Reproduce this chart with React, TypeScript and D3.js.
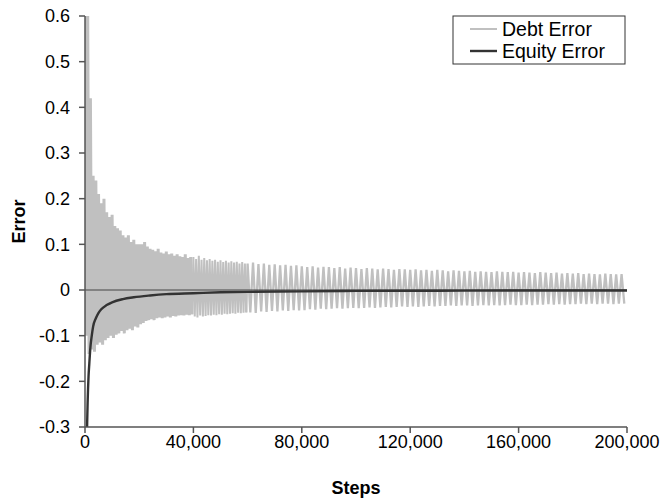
import React from "react";
import * as d3 from "d3";

// Axis ticks
const xTicks = [0, 40000, 80000, 120000, 160000, 200000];
const yTicks = [0.6, 0.5, 0.4, 0.3, 0.2, 0.1, 0, -0.1, -0.2, -0.3];

// Debt error, early phase (0 - 40,000): peaks every 1,000 steps, troughs 500 steps later
const debtEarlyPeaks = [
  0.75, 0.6, 0.42, 0.25, 0.24, 0.21, 0.19, 0.2, 0.17, 0.16,
  0.165, 0.14, 0.135, 0.13, 0.12, 0.115, 0.12, 0.105, 0.11, 0.1,
  0.1, 0.1, 0.105, 0.095, 0.09, 0.088, 0.085, 0.09, 0.082, 0.08,
  0.084, 0.078, 0.08, 0.075, 0.078, 0.074, 0.072, 0.078, 0.07, 0.072,
];
const debtEarlyTroughs = [
  -0.1, -0.14, -0.13, -0.135, -0.12, -0.115, -0.12, -0.11, -0.105, -0.1,
  -0.105, -0.098, -0.095, -0.09, -0.095, -0.088, -0.085, -0.088, -0.08, -0.082,
  -0.075, -0.072, -0.068, -0.066, -0.064, -0.066, -0.062, -0.06, -0.062, -0.06,
  -0.058, -0.06, -0.057, -0.058, -0.056, -0.055, -0.056, -0.054, -0.055, -0.053,
];

// Debt error, middle phase (40,000 - 60,000): peaks every 1,000 steps
const debtMidPeaks = [
  0.072, 0.068, 0.075, 0.066, 0.07, 0.065, 0.068, 0.064, 0.066, 0.062,
  0.065, 0.061, 0.064, 0.06, 0.063, 0.06, 0.062, 0.058, 0.061, 0.058,
];
const debtMidTroughs = [
  -0.058, -0.06, -0.056, -0.058, -0.057, -0.055, -0.056, -0.054, -0.055, -0.053,
  -0.054, -0.052, -0.053, -0.052, -0.051, -0.052, -0.05, -0.051, -0.05, -0.049,
];

// Debt error, late phase (60,000 - 200,000): peaks every 2,000 steps, troughs 1,000 steps later
const debtLatePeaks = [
  0.058, 0.06, 0.057, 0.058, 0.055, 0.056, 0.054, 0.055, 0.053, 0.054,
  0.052, 0.05, 0.052, 0.049, 0.051, 0.05, 0.048, 0.05, 0.047, 0.049,
  0.048, 0.046, 0.048, 0.047, 0.045, 0.047, 0.046, 0.044, 0.046, 0.045,
  0.044, 0.045, 0.043, 0.044, 0.042, 0.044, 0.043, 0.041, 0.043, 0.042,
  0.041, 0.042, 0.04, 0.041, 0.04, 0.039, 0.041, 0.04, 0.039, 0.04,
  0.038, 0.039, 0.038, 0.037, 0.039, 0.038, 0.037, 0.038, 0.036, 0.037,
  0.036, 0.037, 0.035, 0.036, 0.035, 0.034, 0.036, 0.035, 0.034, 0.035,
];
const debtLateTroughs = [
  -0.049, -0.05, -0.047, -0.048, -0.046, -0.047, -0.045, -0.046, -0.044, -0.045,
  -0.044, -0.042, -0.043, -0.041, -0.042, -0.041, -0.04, -0.041, -0.04, -0.039,
  -0.04, -0.039, -0.038, -0.039, -0.038, -0.037, -0.038, -0.037, -0.036, -0.037,
  -0.036, -0.037, -0.036, -0.035, -0.036, -0.035, -0.035, -0.034, -0.035, -0.034,
  -0.034, -0.035, -0.034, -0.033, -0.034, -0.033, -0.034, -0.033, -0.032, -0.033,
  -0.033, -0.032, -0.033, -0.032, -0.032, -0.031, -0.032, -0.031, -0.032, -0.031,
  -0.031, -0.03, -0.031, -0.03, -0.031, -0.03, -0.03, -0.031, -0.03, -0.03,
];

// Equity error
const equitySteps = [
  600, 700, 800, 1000, 1300, 1600, 2000, 2500, 3000, 4000, 5000, 6000, 8000,
  10000, 14000, 18000, 24000, 30000, 40000, 50000, 60000, 80000, 100000,
  130000, 160000, 200000,
];
const equityValues = [
  -0.4, -0.33, -0.29, -0.24, -0.19, -0.16, -0.125, -0.1, -0.08, -0.062,
  -0.05, -0.042, -0.033, -0.027, -0.02, -0.016, -0.012, -0.009, -0.007,
  -0.005, -0.004, -0.003, -0.002, -0.0015, -0.001, -0.001,
];

const FONT = "'Liberation Sans', Arial, sans-serif";
const DEBT_COLOR = "#c0c0c0";
const EQUITY_COLOR = "#333";

type Pt = [number, number];

// Alternate peak / trough samples starting at `start`, one half-cycle apart
function zigzag(start: number, half: number, peaks: number[], troughs: number[]): Pt[] {
  const pts: Pt[] = [];
  peaks.forEach((p, i) => {
    pts.push([start + 2 * half * i, p]);
    pts.push([start + 2 * half * i + half, troughs[i]]);
  });
  return pts;
}

export default function App() {
  const width = 665;
  const height = 498;
  const left = 85;
  const right = 627;
  const top = 16;
  const bottom = 427;

  const x = d3.scaleLinear().domain([0, 200000]).range([left, right]);
  const y = d3.scaleLinear().domain([-0.3, 0.6]).range([bottom, top]);

  const debtEarly = zigzag(0, 500, debtEarlyPeaks, debtEarlyTroughs);
  const debtMid = [debtEarly[debtEarly.length - 1], ...zigzag(40000, 500, debtMidPeaks, debtMidTroughs)];
  const debtLate = [debtMid[debtMid.length - 1], ...zigzag(60000, 1000, debtLatePeaks, debtLateTroughs)];

  const equity: Pt[] = equitySteps.map((s, i) => [s, equityValues[i]]);

  const line = d3
    .line<Pt>()
    .x((d) => x(d[0]))
    .y((d) => y(d[1]));
  const smooth = d3
    .line<Pt>()
    .x((d) => x(d[0]))
    .y((d) => y(d[1]))
    .curve(d3.curveMonotoneX);

  const fmt = d3.format(",");
  const axisColor = "#555";

  return (
    <svg
      width={width}
      height={height}
      style={{ position: "absolute", left: 0, top: 0, background: "#fff" }}
      fontFamily={FONT}
    >
      <defs>
        <clipPath id="plot">
          <rect x={left} y={top} width={right - left} height={bottom - top} />
        </clipPath>
      </defs>

      <g clipPath="url(#plot)">
        <path
          d={line(debtEarly) ?? ""}
          fill="none"
          stroke={DEBT_COLOR}
          strokeWidth={3}
          strokeLinejoin="miter"
          strokeMiterlimit={1}
        />
        <path
          d={line(debtMid) ?? ""}
          fill="none"
          stroke={DEBT_COLOR}
          strokeWidth={2}
          strokeLinejoin="miter"
          strokeMiterlimit={1}
        />
        <path d={line(debtLate) ?? ""} fill="none" stroke={DEBT_COLOR} strokeWidth={2.3} />
        <line x1={left} x2={right} y1={y(0)} y2={y(0)} stroke="#444" strokeWidth={1} />
        <path d={smooth(equity) ?? ""} fill="none" stroke={EQUITY_COLOR} strokeWidth={2.4} />
      </g>

      {/* y axis */}
      <line x1={left} x2={left} y1={top} y2={bottom} stroke={axisColor} strokeWidth={1.5} />
      {yTicks.map((t) => (
        <g key={t}>
          <line x1={left - 6} x2={left} y1={y(t)} y2={y(t)} stroke={axisColor} strokeWidth={1.5} />
          <text x={left - 15} y={y(t)} dy="0.35em" textAnchor="end" fontSize={18} fill="#000">
            {t === 0 ? "0" : String(t)}
          </text>
        </g>
      ))}

      {/* x axis */}
      <line x1={left} x2={right} y1={bottom} y2={bottom} stroke={axisColor} strokeWidth={1.5} />
      {xTicks.map((t) => (
        <g key={t}>
          <line x1={x(t)} x2={x(t)} y1={bottom} y2={bottom + 6} stroke={axisColor} strokeWidth={1.5} />
          <text x={x(t)} y={bottom + 15} dy="0.35em" textAnchor="middle" fontSize={18} fill="#000">
            {fmt(t)}
          </text>
        </g>
      ))}

      <text
        x={(left + right) / 2}
        y={488}
        dy="0.35em"
        textAnchor="middle"
        fontSize={18}
        fontWeight="bold"
      >
        Steps
      </text>
      <text
        transform={`translate(19, ${(top + bottom) / 2}) rotate(-90)`}
        dy="0.35em"
        textAnchor="middle"
        fontSize={18}
        fontWeight="bold"
      >
        Error
      </text>

      {/* legend */}
      <g>
        <rect x={453} y={16} width={172} height={48} fill="#fff" stroke="#333" strokeWidth={1} />
        <line x1={470} x2={497} y1={29} y2={29} stroke={DEBT_COLOR} strokeWidth={2} />
        <text x={502} y={29} dy="0.35em" fontSize={19.5}>
          Debt Error
        </text>
        <line x1={470} x2={497} y1={51} y2={51} stroke={EQUITY_COLOR} strokeWidth={2.4} />
        <text x={502} y={51} dy="0.35em" fontSize={19.5}>
          Equity Error
        </text>
      </g>
    </svg>
  );
}
